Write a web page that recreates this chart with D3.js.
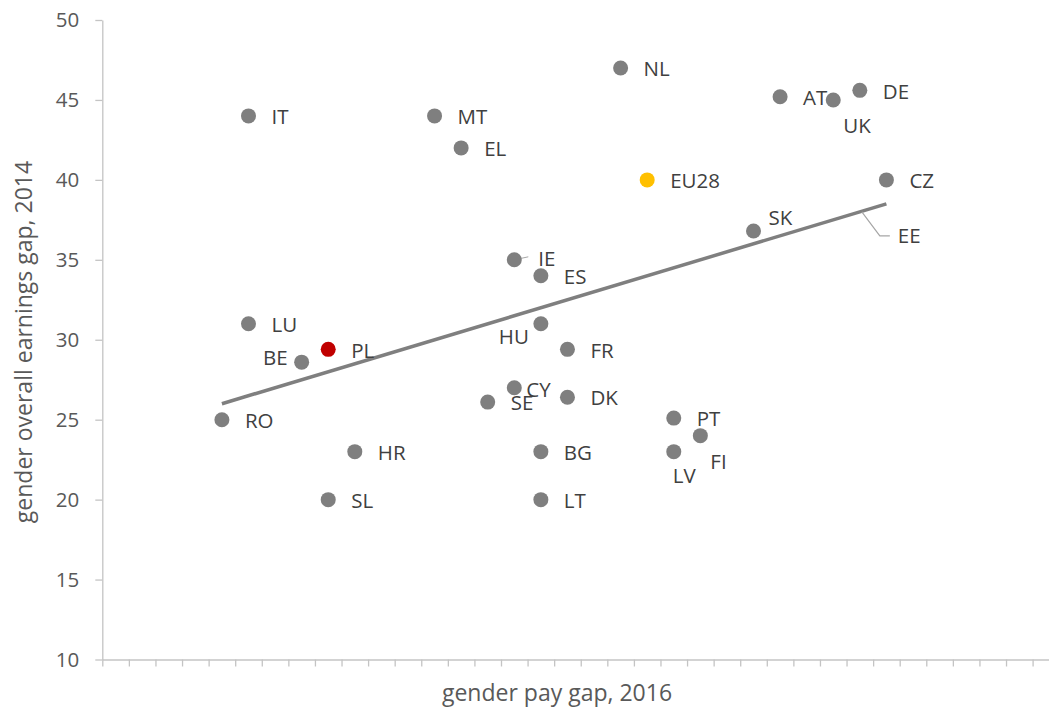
<!DOCTYPE html>
<html>
<head>
<meta charset="utf-8">
<script src="https://cdn.jsdelivr.net/npm/d3@7"></script>
<style>
    body { margin: 0; background: #fff; }
    svg { display: block; font-family: "Open Sans", sans-serif; }
</style>
</head>
<body>
<div id="scatter-plot"></div>
<script>
// Country codes, pay gap 2016 (x) and overall earnings gap 2014 (y)
var countries = ["RO", "IT", "LU", "BE", "PL", "SL", "HR", "MT", "EL", "SE",
                 "CY", "IE", "HU", "ES", "BG", "LT", "FR", "DK", "NL", "EU28",
                 "PT", "LV", "FI", "SK", "AT", "UK", "DE", "CZ"];
var payGap = [5, 6, 6, 8, 9, 9, 10, 13, 14, 15,
              16, 16, 17, 17, 17, 17, 18, 18, 20, 21,
              22, 22, 23, 25, 26, 28, 29, 30];
var earningsGap = [25, 44, 31, 28.6, 29.4, 20, 23, 44, 42, 26.1,
                   27, 35, 31, 34, 23, 20, 29.4, 26.4, 47, 40,
                   25.1, 23, 24, 36.8, 45.2, 45, 45.6, 40];

// Linear trend line end points
var trendX = [5, 30];
var trendY = [26.0, 38.5];

// Y axis ticks
var yTicks = [10, 15, 20, 25, 30, 35, 40, 45, 50];

var data = countries.map(function(c, i) {
    return { code: c, x: payGap[i], y: earningsGap[i] };
});

var width = 1049, height = 708;

var svg = d3.select("#scatter-plot")
            .append("svg")
            .attr("width", width)
            .attr("height", height);

// Scales (x axis runs past the right edge, like the original)
var x = d3.scaleLinear()
          .domain([0.5, 36.5])
          .range([102.3, 102.3 + 36 * 26.58]);
var y = d3.scaleLinear()
          .domain([10, 50])
          .range([659.5, 20]);

var axisColor = "#c4c4c4";

// X axis: tick marks only
var xAxis = svg.append("g")
   .attr("transform", "translate(0," + y(10) + ")")
   .call(d3.axisBottom(x)
           .tickValues(d3.range(0.5, 37, 1))
           .tickSize(7)
           .tickSizeOuter(0)
           .tickFormat(""));
xAxis.select(".domain").attr("stroke", axisColor).attr("stroke-width", 1.3);
xAxis.selectAll(".tick line").attr("stroke", axisColor).attr("stroke-width", 1.3);

// Y axis
var yAxis = svg.append("g")
   .attr("transform", "translate(" + x(0.5) + ",0)")
   .call(d3.axisLeft(y)
           .tickValues(yTicks)
           .tickSize(7)
           .tickSizeOuter(0)
           .tickPadding(16));
yAxis.select(".domain").attr("stroke", axisColor).attr("stroke-width", 1.3);
yAxis.selectAll(".tick line").attr("stroke", axisColor).attr("stroke-width", 1.3);
yAxis.selectAll(".tick text")
     .attr("fill", "#595959")
     .style("font-size", "20.5px")
     .style("font-family", "'Open Sans', sans-serif");

// Axis titles
svg.append("text")
   .attr("x", 557)
   .attr("y", 701)
   .attr("text-anchor", "middle")
   .attr("fill", "#595959")
   .style("font-size", "23px")
   .text("gender pay gap, 2016");

svg.append("text")
   .attr("transform", "translate(32," + 342 + ") rotate(-90)")
   .attr("text-anchor", "middle")
   .attr("fill", "#595959")
   .style("font-size", "23px")
   .text("gender overall earnings gap, 2014");

// Trend line
svg.append("path")
   .datum(d3.zip(trendX, trendY))
   .attr("fill", "none")
   .attr("stroke", "#7f7f7f")
   .attr("stroke-width", 3.5)
   .attr("d", d3.line()
                .x(function(d) { return x(d[0]); })
                .y(function(d) { return y(d[1]); }));

// Leader lines for IE and EE
var ie = data[countries.indexOf("IE")];
svg.append("path")
   .attr("fill", "none")
   .attr("stroke", "#a6a6a6")
   .attr("stroke-width", 1)
   .attr("d", "M" + x(ie.x) + "," + y(ie.y) + "L" + (x(ie.x) + 14) + "," + (y(ie.y) - 3));

var eeX = 29;
var eeY = trendY[0] + (trendY[1] - trendY[0]) * (eeX - trendX[0]) / (trendX[1] - trendX[0]);
svg.append("path")
   .attr("fill", "none")
   .attr("stroke", "#a6a6a6")
   .attr("stroke-width", 1.2)
   .attr("d", "M" + (x(eeX) + 2) + "," + y(eeY) +
              "L" + (x(eeX) + 20) + "," + (y(eeY) + 24) +
              "L" + (x(eeX) + 30) + "," + (y(eeY) + 24));

// Points
var colour = function(d) {
    if (d.code === "PL") return "#c00000";
    if (d.code === "EU28") return "#ffc000";
    return "#7f7f7f";
};
svg.selectAll("circle")
   .data(data)
   .enter()
   .append("circle")
   .attr("cx", function(d) { return x(d.x); })
   .attr("cy", function(d) { return y(d.y); })
   .attr("r", 7.5)
   .style("fill", colour);

// Label placement (offset from point centre, anchor)
var placement = {
    UK: [10, 26, "start"],
    SK: [15, -13, "start"],
    BE: [-14, -4, "end"],
    HU: [-12, 13, "end"],
    CY: [12, 2, "start"],
    LV: [-1, 24, "start"],
    FI: [10, 26, "start"],
    IE: [24, -1, "start"]
};
svg.selectAll(".label")
   .data(data)
   .enter()
   .append("text")
   .attr("class", "label")
   .attr("x", function(d) { var p = placement[d.code]; return x(d.x) + (p ? p[0] : 23); })
   .attr("y", function(d) { var p = placement[d.code]; return y(d.y) + (p ? p[1] : 1); })
   .attr("dy", "0.35em")
   .attr("text-anchor", function(d) { var p = placement[d.code]; return p ? p[2] : "start"; })
   .attr("fill", "#404040")
   .style("font-size", "20.5px")
   .text(function(d) { return d.code; });

svg.append("text")
   .attr("x", x(eeX) + 38)
   .attr("y", y(eeY) + 24)
   .attr("dy", "0.35em")
   .attr("fill", "#404040")
   .style("font-size", "20.5px")
   .text("EE");
</script>
</body>
</html>
